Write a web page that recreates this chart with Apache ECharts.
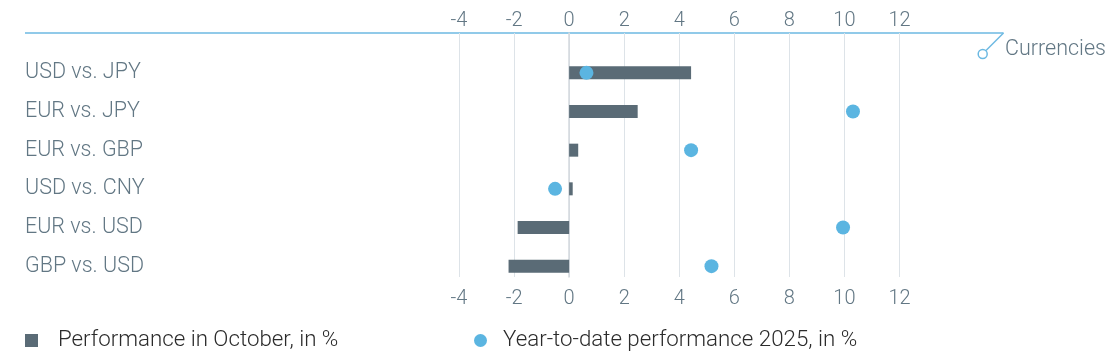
<!DOCTYPE html>
<html>
<head>
<meta charset="utf-8">
<script src="https://cdn.jsdelivr.net/npm/echarts@6/dist/echarts.min.js"></script>
<style>
html,body{margin:0;padding:0;background:#fff;}
#chart{width:1115px;height:359px;}
</style>
</head>
<body>
<div id="chart"></div>
<script>
const categories = ['USD vs. JPY','EUR vs. JPY','EUR vs. GBP','USD vs. CNY','EUR vs. USD','GBP vs. USD'];
const octoberPerf = [4.43, 2.49, 0.33, 0.13, -1.87, -2.2];
const ytdPerf = [0.63, 10.31, 4.43, -0.51, 9.95, 5.17];
const xMin = -4, xMax = 12, xStep = 2;
const seriesNames = ['Performance in October, in %', 'Year-to-date performance 2025, in %'];
const axisTitle = 'Currencies';

const FONT = 'Roboto';
const labelColor = '#627784';
const blue = '#5bb5e1';
const barColor = '#5a6b76';

const chart = echarts.init(document.getElementById('chart'), null, {renderer:'canvas'});
const gridL = 459, gridR = 1115 - 899.5;
chart.setOption({
  animation: false,
  grid: [
    {left: gridL, right: gridR, top: 53.5, height: 232},
    {left: gridL, right: gridR, top: 33, height: 244}
  ],
  xAxis: [
    {gridIndex:0, type:'value', min:xMin, max:xMax, interval:xStep, show:false},
    {gridIndex:1, type:'value', position:'top', min:xMin, max:xMax, interval:xStep,
     axisLine:{show:false}, axisTick:{show:false},
     axisLabel:{fontFamily:FONT, fontWeight:300, fontSize:20, color:labelColor, margin:2},
     splitLine:{show:true, lineStyle:{color:'#dde3e8', width:1}}},
    {gridIndex:1, type:'value', position:'bottom', min:xMin, max:xMax, interval:xStep,
     axisLine:{show:false}, axisTick:{show:false},
     axisLabel:{fontFamily:FONT, fontWeight:300, fontSize:20, color:labelColor, margin:12},
     splitLine:{show:false}}
  ],
  yAxis: [
    {gridIndex:0, type:'category', data:categories, inverse:true,
     axisLine:{show:false}, axisTick:{show:false},
     axisLabel:{fontFamily:FONT, fontWeight:300, fontSize:21.5, color:labelColor, align:'left', margin:gridL-25}},
    {gridIndex:1, type:'value', min:0, max:1,
     axisLine:{show:true, onZero:true, lineStyle:{color:'#d3d9de', width:1.5}},
     axisTick:{show:false}, axisLabel:{show:false}, splitLine:{show:false}}
  ],
  legend: [
    {data:[seriesNames[0]], left:25, top:329.5, padding:0, itemWidth:13, itemHeight:13, icon:'rect',
     textStyle:{fontFamily:FONT, fontWeight:300, fontSize:22.3, color:'#2b2b2b', padding:[0,0,0,15]}},
    {data:[seriesNames[1]], left:474, top:329.5, padding:0, itemWidth:13, itemHeight:13, icon:'circle',
     textStyle:{fontFamily:FONT, fontWeight:300, fontSize:22.3, color:'#2b2b2b', padding:[0,0,0,11]}}
  ],
  graphic: [
    {type:'line', shape:{x1:25, y1:33, x2:1003.5, y2:33}, style:{stroke:'#6cb9e2', lineWidth:1.5}, silent:true},
    {type:'line', shape:{x1:1003.5, y1:33, x2:986, y2:50.5}, style:{stroke:'#6cb9e2', lineWidth:1.5}, silent:true},
    {type:'circle', shape:{cx:982.7, cy:54, r:4.5}, style:{fill:'#fff', stroke:'#6cb9e2', lineWidth:1.5}, silent:true},
    {type:'text', left:1005, top:39, style:{text:axisTitle, font:'300 21.5px Roboto', fill:labelColor}, silent:true}
  ],
  series: [
    {name:seriesNames[0], type:'bar', xAxisIndex:0, yAxisIndex:0, data:octoberPerf, barWidth:13,
     itemStyle:{color:barColor}, z:2},
    {name:seriesNames[1], type:'scatter', xAxisIndex:0, yAxisIndex:0, data:ytdPerf, symbolSize:14,
     itemStyle:{color:blue, opacity:1}, z:3}
  ]
});
</script>
</body>
</html>
